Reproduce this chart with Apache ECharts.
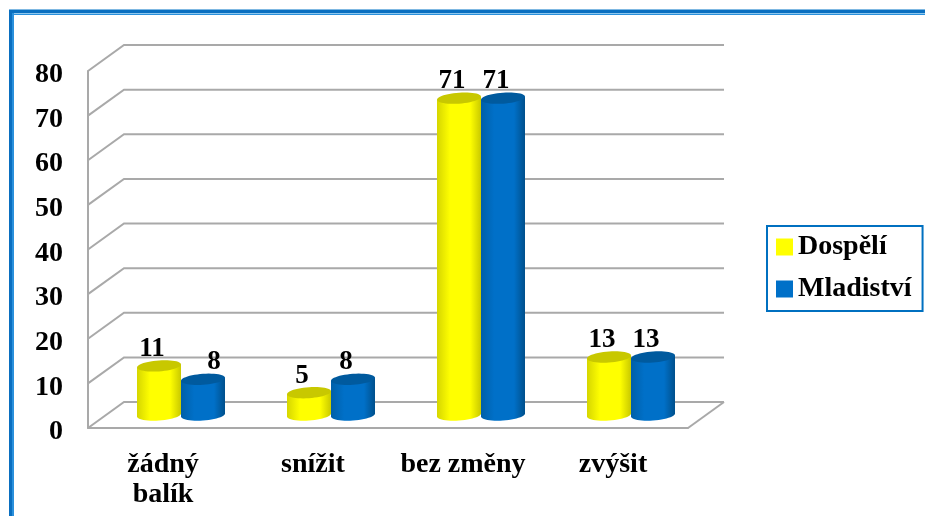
<!DOCTYPE html>
<html>
<head>
<meta charset="utf-8">
<script src="https://cdn.jsdelivr.net/npm/echarts@6/dist/echarts.min.js"></script>
<style>
  html, body { margin: 0; background: #fff; }
  #chart { width: 925px; height: 516px; }
</style>
</head>
<body>
<div id="chart"></div>
<script>
const categories = ['žádný\nbalík', 'snížit', 'bez změny', 'zvýšit'];
const dospeli = [11, 5, 71, 13];
const mladistvi = [8, 8, 71, 13];
const yTicks = [0, 10, 20, 30, 40, 50, 60, 70, 80];

// fake 3D: how far the back wall sits from the front plane
const depthX = 36;
const depthY = -26;
const font = '"Liberation Serif", serif';
const gridColor = '#a9a9a9';

function ellipsePoint(cx, cy, rx, ry, t) {
  // slight shear so the caps lean up to the right like in the original
  return [cx + rx * Math.cos(t), cy + ry * Math.sin(t) - 1.5 * Math.cos(t)];
}

function cylinder(params, api, side, colors) {
  let value = api.value(1);
  let top = api.coord([api.value(0), value]);
  let bottom = api.coord([api.value(0), 0]);
  let rx = 22;
  let ry = 5.5;
  let cx = top[0] + depthX / 2 + side * rx;
  let topY = top[1] + depthY / 2;
  let bottomY = bottom[1] + depthY / 2;

  let body = [];
  for (let i = 0; i <= 24; i++) {
    body.push(ellipsePoint(cx, bottomY, rx, ry, Math.PI * i / 24));
  }
  body.push(ellipsePoint(cx, topY, rx, ry, Math.PI));
  body.push(ellipsePoint(cx, topY, rx, ry, 0));

  let cap = [];
  for (let i = 0; i < 48; i++) {
    cap.push(ellipsePoint(cx, topY, rx, ry, Math.PI * i / 24));
  }

  // the first blue label sits to the right of its bar in the original
  let labelX = cx - 7;
  if (side > 0 && params.dataIndex === 0) {
    labelX = cx + 11;
  }

  return {
    type: 'group',
    children: [
      {
        type: 'polygon',
        shape: { points: body },
        style: {
          fill: {
            type: 'linear', x: 0, y: 0, x2: 1, y2: 0,
            colorStops: [
              { offset: 0, color: colors[0] },
              { offset: 0.3, color: colors[1] },
              { offset: 0.75, color: colors[1] },
              { offset: 1, color: colors[2] }
            ]
          }
        }
      },
      {
        type: 'polygon',
        shape: { points: cap },
        style: { fill: colors[3] }
      },
      {
        type: 'text',
        style: {
          text: String(value),
          x: labelX,
          y: topY - 17,
          align: 'center',
          verticalAlign: 'middle',
          fontFamily: font,
          fontWeight: 'bold',
          fontSize: 27,
          fill: '#000'
        }
      }
    ]
  };
}

function gridLine(params, api) {
  let tick = yTicks[params.dataIndex];
  let sys = params.coordSys;
  let y = api.coord([0, tick])[1];
  let left = sys.x;
  let right = sys.x + sys.width;
  let style = { stroke: gridColor, lineWidth: 2, fill: null };
  let children = [{
    type: 'polyline',
    shape: { points: [[left, y], [left + depthX, y + depthY], [right + depthX, y + depthY]] },
    style: style
  }];
  if (tick === 0) {
    // right edge of the floor
    children.push({
      type: 'line',
      shape: { x1: right, y1: y, x2: right + depthX, y2: y + depthY },
      style: style
    });
  }
  return { type: 'group', children: children };
}

let oChart = echarts.init(document.getElementById('chart'));
let option = {
  backgroundColor: '#fff',
  animation: false,
  graphic: [
    // blue frame, top and left sides only
    { type: 'rect', shape: { x: 9, y: 9, width: 916, height: 1 }, style: { fill: '#7fb8e2' }, silent: true },
    { type: 'rect', shape: { x: 9, y: 10, width: 916, height: 3 }, style: { fill: '#0a6fc0' }, silent: true },
    { type: 'rect', shape: { x: 12, y: 13, width: 913, height: 1 }, style: { fill: '#8fc8ee' }, silent: true },
    { type: 'rect', shape: { x: 12, y: 14, width: 913, height: 1 }, style: { fill: '#2a90dc' }, silent: true },
    { type: 'rect', shape: { x: 9, y: 10, width: 3, height: 506 }, style: { fill: '#0a6fc0' }, silent: true },
    { type: 'rect', shape: { x: 12, y: 13, width: 2, height: 503 }, style: { fill: '#2a90dc' }, silent: true }
  ],
  legend: {
    left: 767,
    top: 226,
    orient: 'vertical',
    data: [
      { name: 'Dospělí', itemStyle: { color: '#ffff00' } },
      { name: 'Mladiství', itemStyle: { color: '#0070c8' } }
    ],
    icon: 'rect',
    itemWidth: 17,
    itemHeight: 17,
    itemGap: 14,
    padding: [7, 11, 8, 9],
    borderColor: '#0070c0',
    borderWidth: 2,
    textStyle: {
      fontFamily: font,
      fontWeight: 'bold',
      fontSize: 28,
      color: '#000'
    }
  },
  grid: { left: 88, right: 237, top: 71, bottom: 88 },
  xAxis: {
    type: 'category',
    data: categories,
    axisLine: { lineStyle: { color: gridColor, width: 2 } },
    axisTick: { show: false },
    axisLabel: {
      interval: 0,
      margin: 22,
      fontFamily: font,
      fontWeight: 'bold',
      fontSize: 28,
      lineHeight: 30,
      color: '#000'
    }
  },
  yAxis: {
    type: 'value',
    min: 0,
    max: 80,
    interval: 10,
    splitLine: { show: false },
    axisTick: { show: false },
    axisLine: { show: true, lineStyle: { color: gridColor, width: 2 } },
    axisLabel: {
      margin: 25,
      verticalAlign: 'top',
      lineHeight: 8,
      fontFamily: font,
      fontWeight: 'bold',
      fontSize: 28,
      color: '#000'
    }
  },
  series: [
    {
      type: 'custom',
      name: 'grid',
      silent: true,
      z: 1,
      renderItem: gridLine,
      data: yTicks.map(function (t) { return [0, t]; })
    },
    {
      type: 'custom',
      name: 'Dospělí',
      z: 2,
      itemStyle: { color: '#ffff00' },
      renderItem: function (params, api) {
        return cylinder(params, api, -1, ['#d6d600', '#ffff00', '#c9c900', '#c8c800']);
      },
      data: dospeli.map(function (v, i) { return [i, v]; })
    },
    {
      type: 'custom',
      name: 'Mladiství',
      z: 3,
      itemStyle: { color: '#0070c8' },
      renderItem: function (params, api) {
        return cylinder(params, api, 1, ['#005fa8', '#0070c8', '#00508c', '#005a9e']);
      },
      data: mladistvi.map(function (v, i) { return [i, v]; })
    }
  ]
};
oChart.setOption(option);
</script>
</body>
</html>
